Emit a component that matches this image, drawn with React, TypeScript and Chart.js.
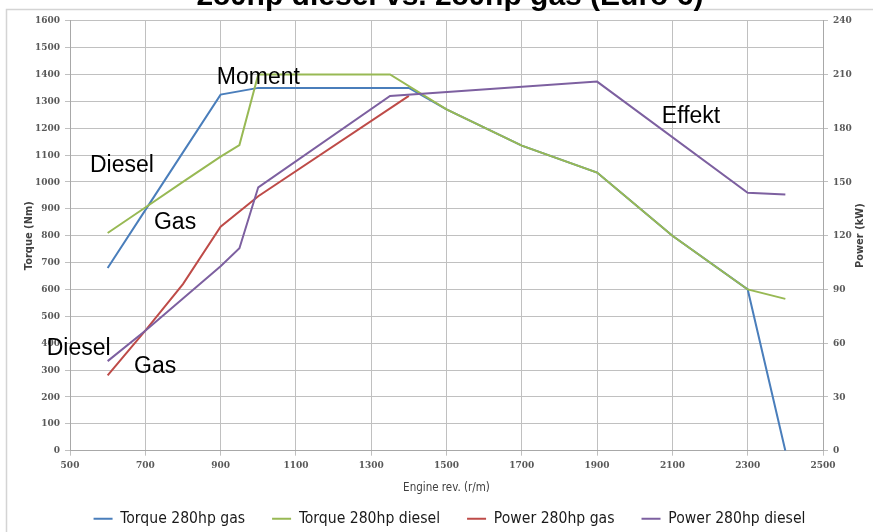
import { useEffect, useRef } from "react";
import { Chart, registerables } from "chart.js";

Chart.register(...registerables);

// ---- data ----
const chartTitle = "280hp diesel vs. 280hp gas (Euro 6)";
const seriesLabels = ["Torque 280hp gas", "Torque 280hp diesel", "Power 280hp gas", "Power 280hp diesel"];

const torqueGasRpm = [600, 700, 800, 900, 1000, 1400, 1500, 1700, 1900, 2100, 2300, 2400];
const torqueGasNm = [680, 895, 1110, 1325, 1350, 1350, 1270, 1135, 1035, 800, 600, 0];

const torqueDieselRpm = [600, 700, 800, 900, 950, 1000, 1350, 1500, 1700, 1900, 2100, 2300, 2400];
const torqueDieselNm = [810, 905, 1000, 1094, 1137, 1400, 1400, 1270, 1135, 1035, 800, 600, 565];

const powerGasRpm = [600, 700, 800, 900, 1000, 1400];
const powerGasKw = [42, 67, 93, 125, 142, 198];

const powerDieselRpm = [600, 700, 800, 900, 950, 1000, 1350, 1900, 2300, 2400];
const powerDieselKw = [50, 67, 85, 103, 113, 147, 198, 206, 144, 143];

const rpmAxis = [500, 2500, 200]; // min, max, step
const torqueAxis = [0, 1600, 100];
const powerAxis = [0, 240, 30];

const xAxisTitle = "Engine rev. (r/m)";
const leftAxisTitle = "Torque (Nm)";
const rightAxisTitle = "Power (kW)";

// free text labels placed in data units (rpm, Nm)
const noteTexts = ["Moment", "Diesel", "Gas", "Diesel", "Gas", "Effekt"];
const noteRpm = [890, 553, 723, 438, 670, 2072];
const noteNm = [1364, 1038, 824, 356, 288, 1220];

// ---- styles ----
const colors = ["#4a7ebb", "#98b954", "#be4b48", "#7d60a0"];
const gridColor = "#c0c0c0";
const axisColor = "#a8a8a8";
const tickColor = "#595959";
const tickFont = { family: "'DejaVu Serif Condensed', 'DejaVu Serif', serif", size: 10, weight: "bold" as const };
const condensed = "'DejaVu Sans Condensed', 'Liberation Sans Narrow', 'DejaVu Sans', sans-serif";
const plainTick = (v: any) => String(v);

const pairs = (xs: number[], ys: number[]) => xs.map((x, i) => ({ x, y: ys[i] }));

const decor = {
  id: "decor",
  afterLayout(chart: any) {
    const l = chart.legend;
    if (l) {
      l.left += 13;
      l.right += 13;
    }
  },
  beforeDraw(chart: any) {
    const ctx = chart.ctx;
    ctx.save();
    ctx.strokeStyle = "#d4d4d4";
    ctx.lineWidth = 1.5;
    ctx.strokeRect(6.5, 9.5, 1000, 1000);
    ctx.restore();
  },
  afterDraw(chart: any) {
    const ctx = chart.ctx;
    const xs = chart.scales.x;
    const ys = chart.scales.y;
    const y1 = chart.scales.y1;
    ctx.save();
    ctx.fillStyle = "#000";
    ctx.font = "23px 'Liberation Sans', Arial, sans-serif";
    ctx.textAlign = "left";
    ctx.textBaseline = "alphabetic";
    noteTexts.forEach((t, i) => {
      ctx.fillText(t, xs.getPixelForValue(noteRpm[i]), ys.getPixelForValue(noteNm[i]));
    });
    // right axis title (reads bottom to top)
    ctx.save();
    ctx.translate(860, (y1.top + y1.bottom) / 2);
    ctx.rotate(-Math.PI / 2);
    ctx.font = `bold 11px ${condensed}`;
    ctx.fillStyle = "#404040";
    ctx.textAlign = "center";
    ctx.textBaseline = "middle";
    ctx.fillText(rightAxisTitle, 0, 0);
    ctx.restore();
    // chart title (cut at the top of the picture)
    ctx.font = "bold 30px 'Liberation Sans', Arial, sans-serif";
    ctx.fillStyle = "#000";
    ctx.textAlign = "center";
    ctx.textBaseline = "alphabetic";
    ctx.fillText(chartTitle, 450, 5);
    ctx.restore();
  },
};

export default function App() {
  const ref = useRef<HTMLCanvasElement>(null);

  useEffect(() => {
    if (!ref.current) return;
    const mk = (i: number, data: { x: number; y: number }[], axis: string, order: number) => ({
      label: seriesLabels[i],
      data,
      borderColor: colors[i],
      backgroundColor: colors[i],
      borderWidth: 2,
      pointRadius: 0,
      pointHoverRadius: 0,
      tension: 0,
      fill: false,
      yAxisID: axis,
      order,
    });
    const chart = new Chart(ref.current, {
      type: "line",
      data: {
        datasets: [
          mk(0, pairs(torqueGasRpm, torqueGasNm), "y", 4),
          mk(1, pairs(torqueDieselRpm, torqueDieselNm), "y", 3),
          mk(2, pairs(powerGasRpm, powerGasKw), "y1", 2),
          mk(3, pairs(powerDieselRpm, powerDieselKw), "y1", 1),
        ],
      },
      options: {
        responsive: false,
        animation: false,
        events: [],
        layout: { padding: { top: 20.7, left: 0, right: 0, bottom: -4.5 } },
        scales: {
          x: {
            type: "linear",
            position: "bottom",
            min: rpmAxis[0],
            max: rpmAxis[1],
            ticks: {
              stepSize: rpmAxis[2],
              padding: 4,
              font: tickFont,
              color: tickColor,
              maxRotation: 0,
              autoSkip: false,
              callback: plainTick,
            },
            grid: { color: gridColor, tickLength: 5 },
            border: { color: axisColor },
            title: {
              display: true,
              text: xAxisTitle,
              font: { family: condensed, size: 11.5 },
              color: "#404040",
              padding: { top: 0, bottom: -11.4 },
            },
            afterFit: (s: any) => {
              const lg = s.chart.legend;
              const lh = lg ? lg.height : 0;
              s.height = s.chart.height + 4.5 - lh - 450.7;
              s.paddingLeft = 0;
              s.paddingRight = 0;
            },
          },
          y: {
            position: "left",
            min: torqueAxis[0],
            max: torqueAxis[1],
            ticks: {
              stepSize: torqueAxis[2],
              padding: 5,
              font: tickFont,
              color: tickColor,
              autoSkip: false,
              callback: plainTick,
            },
            grid: { color: gridColor, tickLength: 5 },
            border: { color: axisColor },
            title: {
              display: true,
              text: leftAxisTitle,
              font: { family: condensed, size: 11, weight: "bold" },
              color: "#404040",
              padding: { top: 22.9, bottom: 0 },
            },
            afterFit: (s: any) => {
              s.width = 70;
              s.paddingTop = 0;
              s.paddingBottom = 0;
            },
          },
          y1: {
            position: "right",
            min: powerAxis[0],
            max: powerAxis[1],
            ticks: {
              stepSize: powerAxis[2],
              padding: 5,
              font: tickFont,
              color: tickColor,
              autoSkip: false,
              callback: plainTick,
            },
            grid: { drawOnChartArea: false, color: gridColor, tickLength: 5 },
            border: { color: axisColor },
            afterFit: (s: any) => {
              s.width = 50;
              s.paddingTop = 0;
              s.paddingBottom = 0;
            },
          },
        },
        plugins: {
          tooltip: { enabled: false },
          title: { display: false },
          legend: {
            display: true,
            position: "bottom",
            labels: {
              boxWidth: 19,
              boxHeight: 2,
              padding: 27,
              color: "#1a1a1a",
              font: { family: condensed, size: 15.6 },
              generateLabels: (c: any) =>
                c.data.datasets.map((d: any, i: number) => ({
                  text: d.label,
                  fillStyle: d.borderColor,
                  strokeStyle: d.borderColor,
                  lineWidth: 0,
                  hidden: false,
                  datasetIndex: i,
                  fontColor: "#1a1a1a",
                })),
            },
          },
        },
      },
      plugins: [decor],
    } as any);
    return () => chart.destroy();
  }, []);

  return (
    <div style={{ position: "absolute", left: 0, top: 0, width: 873, height: 532, background: "#fff" }}>
      <canvas ref={ref} width={873} height={532} style={{ display: "block", width: 873, height: 532 }} />
    </div>
  );
}
